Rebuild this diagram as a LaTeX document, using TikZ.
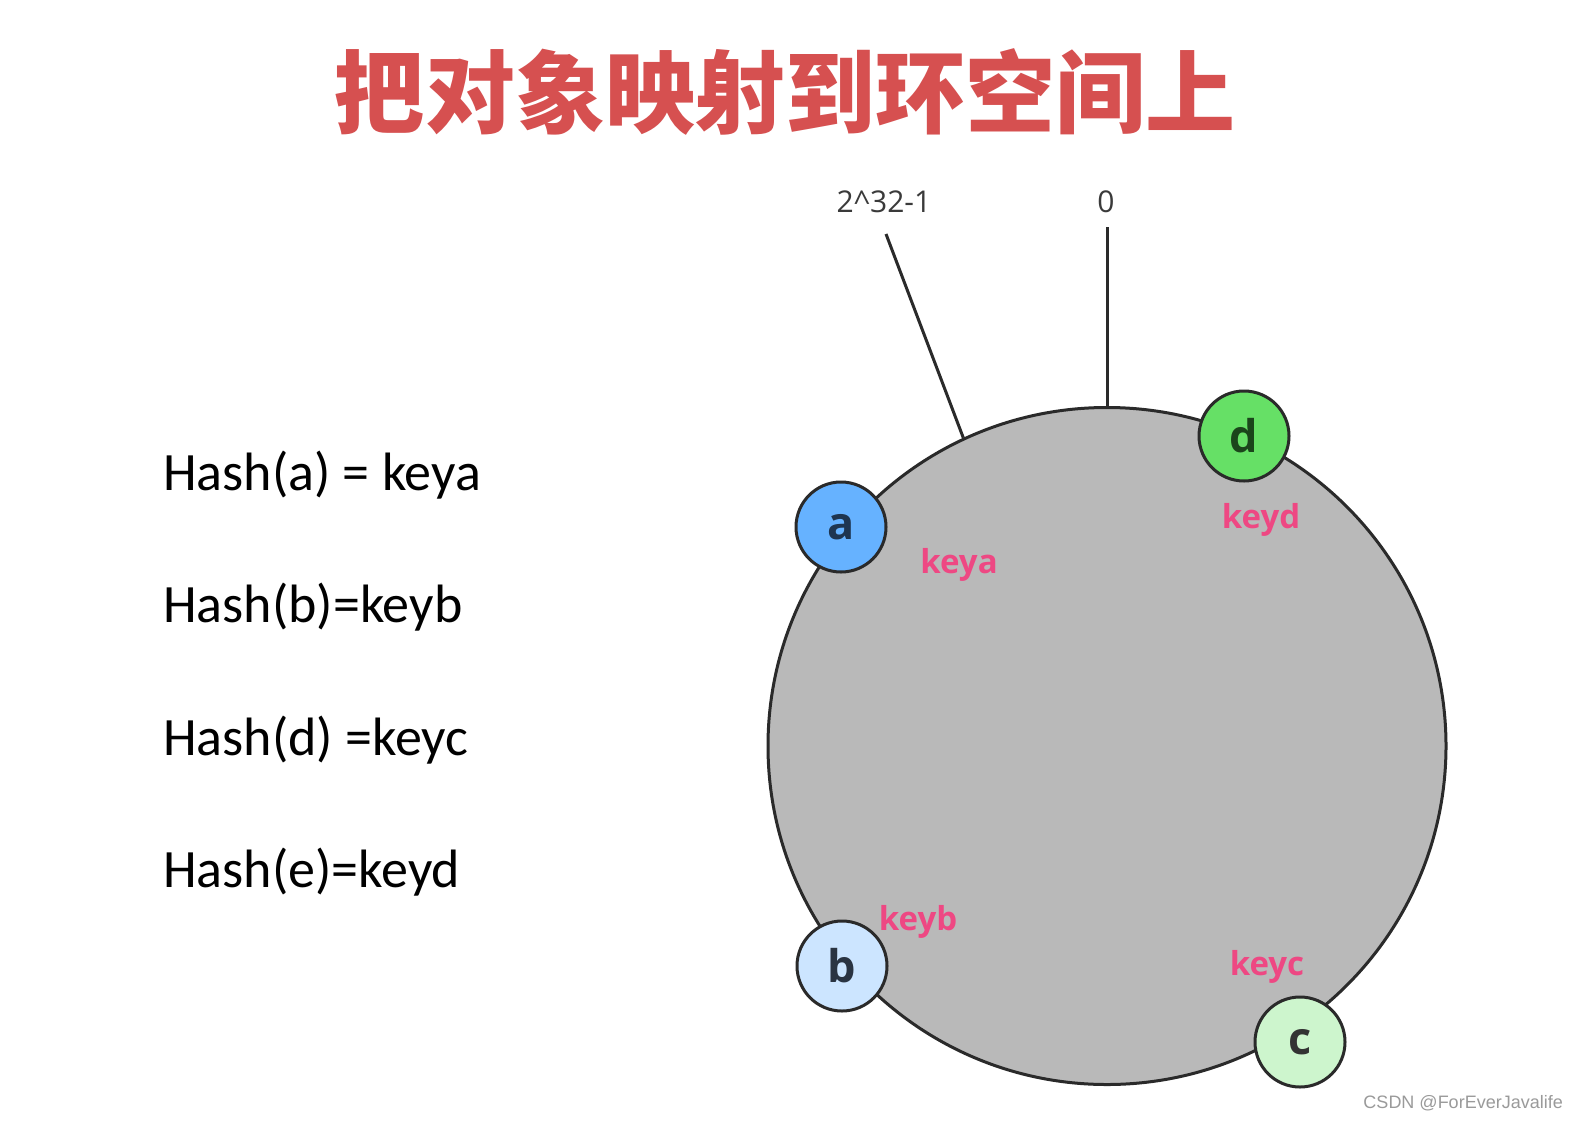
\documentclass[tikz,border=0pt]{standalone}
\usepackage{fontspec}
\usetikzlibrary{shapes.geometric}
\newfontfamily\cjk{Noto Sans CJK SC}
\newfontfamily\carlito{Carlito}
\newfontfamily\opensans{Open Sans}
\newfontfamily\wmfont{Liberation Sans}
\definecolor{titlered}{HTML}{D65050}
\definecolor{ringfill}{HTML}{B9B9B9}
\definecolor{edge}{HTML}{2A2A2A}
\definecolor{keypink}{HTML}{EE4883}
\definecolor{afill}{HTML}{66B2FF}
\definecolor{bfill}{HTML}{CCE5FF}
\definecolor{cfill}{HTML}{CDF5CD}
\definecolor{dfill}{HTML}{66E066}
\definecolor{atext}{HTML}{1E3550}
\definecolor{btext}{HTML}{2A3442}
\definecolor{ctext}{HTML}{333333}
\definecolor{dtext}{HTML}{1B451B}
\definecolor{marktext}{HTML}{3A3A3A}
\definecolor{wmgray}{HTML}{9A9A9A}
\begin{document}
\begin{tikzpicture}[x=1bp,y=-1bp,
  hashtext/.style={anchor=base west, inner sep=0, font=\carlito\fontsize{54bp}{60bp}\selectfont, text=black},
  keylabel/.style={inner sep=0, font=\opensans\bfseries\fontsize{33bp}{36bp}\selectfont, text=keypink},
  slot/.style={circle, draw=edge, line width=3bp, minimum size=90bp, inner sep=0,
    font=\opensans\bfseries\fontsize{45bp}{48bp}\selectfont},
  marklabel/.style={inner sep=0, font=\opensans\fontsize{30bp}{32bp}\selectfont, text=marktext},
  markline/.style={draw=edge, line width=3bp}
]
\useasboundingbox (0,0) rectangle (1578,1120);
\fill[white] (0,0) rectangle (1578,1120);

% title
\node[anchor=base, inner sep=0, text=titlered, font=\cjk\bfseries\fontsize{90bp}{90bp}\selectfont] (title) at (785,126) {把对象映射到环空间上};

% hash lines
\node[hashtext] (h1) at (163,490) {Hash(a) = keya};
\node[hashtext] (h2) at (163,622) {Hash(b)=keyb};
\node[hashtext] (h3) at (163,755) {Hash(d) =keyc};
\node[hashtext] (h4) at (163,887) {Hash(e)=keyd};

% ring
\node[ellipse, draw=edge, fill=ringfill, line width=3bp, minimum width=678bp, minimum height=677bp, inner sep=0] (ring) at (1107,746) {};

% markers
\node[marklabel] (lmax) at (884,202) {2\^{}32-1};
\node[marklabel] (lzero) at (1106,202) {0};
\coordinate (maxstart) at (886,234);
\coordinate (zerostart) at (1107,227);
\draw[markline] (maxstart) -- (ring.115.7);
\draw[markline] (zerostart) -- (ring.north);

% key labels
\node[keylabel] (ka) at (959,565) {keya};
\node[keylabel] (kd) at (1261,520) {keyd};
\node[keylabel] (kb) at (918,922) {keyb};
\node[keylabel] (kc) at (1267,967) {keyc};

% slots
\node[slot, fill=afill, text=atext] (na) at (841,527) {\raisebox{-3bp}{a}};
\node[slot, fill=dfill, text=dtext] (nd) at (1244,436) {\raisebox{-2bp}{d}};
\node[slot, fill=bfill, text=btext] (nb) at (842,966) {\raisebox{-2bp}{b}};
\node[slot, fill=cfill, text=ctext] (nc) at (1300,1042) {\raisebox{-3bp}{c}};

% watermark
\node[anchor=east, inner sep=0, text=wmgray, font=\wmfont\fontsize{18bp}{20bp}\selectfont] (wm) at (1563,1103) {CSDN @ForEverJavalife};
\end{tikzpicture}
\end{document}
